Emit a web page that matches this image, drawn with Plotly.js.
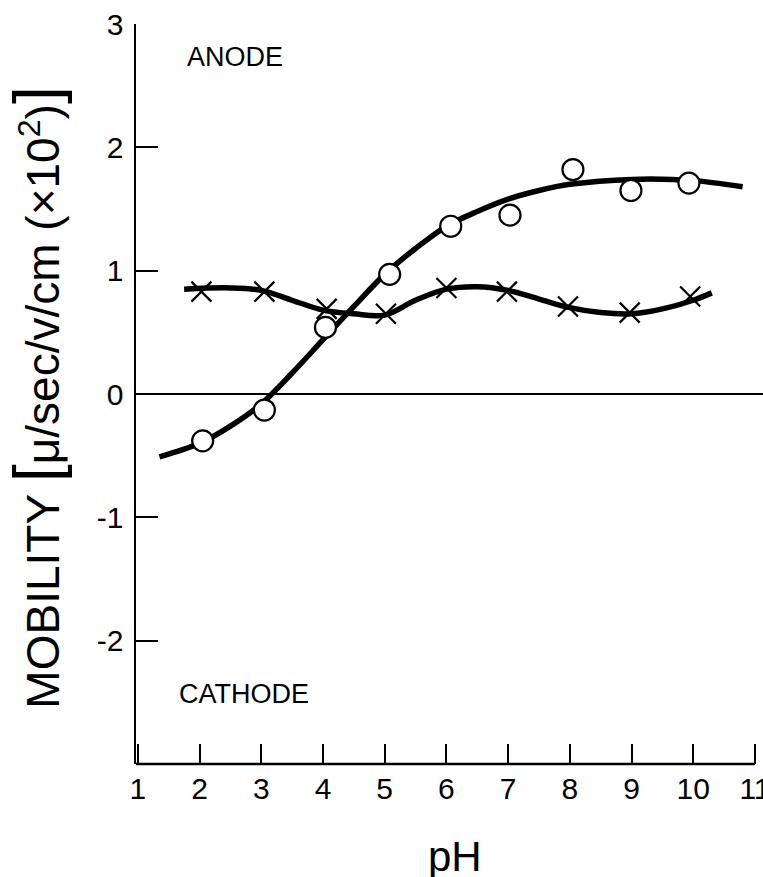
<!DOCTYPE html>
<html>
<head>
<meta charset="utf-8">
<script src="https://cdn.plot.ly/plotly-3.0.1.min.js"></script>
<style>html,body{margin:0;padding:0;background:#fff;}#chart{width:763px;height:877px;}</style>
</head>
<body>
<div id="chart"></div>
<script>
// Open circles: measured points
const circleX = [2.05, 3.05, 4.04, 5.08, 6.07, 7.03, 8.05, 8.99, 9.93];
const circleY = [-0.38, -0.13, 0.54, 0.97, 1.36, 1.45, 1.82, 1.65, 1.71];
// Crosses: measured points
const crossX = [2.03, 3.05, 4.06, 5.02, 6.0, 6.98, 7.97, 8.97, 9.95];
const crossY = [0.83, 0.83, 0.69, 0.65, 0.86, 0.83, 0.71, 0.66, 0.79];
// Smooth curve drawn through circles
const circleCurveX = [1.35, 2.0, 2.5, 3.0, 3.5, 4.0, 4.5, 5.0, 5.5, 6.0, 6.5, 7.0, 7.5, 8.0, 9.0, 10.0, 10.8];
const circleCurveY = [-0.51, -0.40, -0.26, -0.08, 0.17, 0.44, 0.71, 0.97, 1.18, 1.36, 1.48, 1.58, 1.65, 1.70, 1.74, 1.73, 1.68];
// Smooth curve drawn through crosses
const crossCurveX = [1.75, 2.5, 3.0, 3.5, 4.0, 4.5, 5.0, 5.5, 6.0, 6.5, 7.0, 7.5, 8.0, 8.5, 9.0, 9.5, 10.0, 10.3];
const crossCurveY = [0.85, 0.86, 0.84, 0.76, 0.68, 0.65, 0.64, 0.76, 0.85, 0.87, 0.84, 0.77, 0.70, 0.66, 0.65, 0.69, 0.76, 0.82];
// Tick labels
const xTicks = [1, 2, 3, 4, 5, 6, 7, 8, 9, 10, 11];
const yTicks = [-2, -1, 0, 1, 2, 3];
const xMin = 0.97, xMax = 11.13;

const FONT = 'Liberation Sans, Arial, sans-serif';

const traces = [
  {x: circleCurveX, y: circleCurveY, mode: 'lines', line: {color: '#000', width: 5.5, shape: 'spline', smoothing: 1}, hoverinfo: 'skip'},
  {x: crossCurveX, y: crossCurveY, mode: 'lines', line: {color: '#000', width: 5.5, shape: 'spline', smoothing: 1}, hoverinfo: 'skip'},
  {x: crossX, y: crossY, mode: 'markers', marker: {symbol: 'x-thin-open', size: 20, color: '#000', line: {color: '#000', width: 2.2}}},
  {x: circleX, y: circleY, mode: 'markers', marker: {symbol: 'circle', size: 21, color: '#fff', line: {color: '#000', width: 2.2}}}
];

const layout = {
  width: 763, height: 877,
  margin: {l: 136, r: 0, t: 24, b: 113},
  paper_bgcolor: '#fff', plot_bgcolor: '#fff',
  showlegend: false,
  font: {family: FONT, color: '#000'},
  xaxis: {
    range: [xMin, xMax], tickvals: xTicks, ticktext: xTicks.map(String),
    ticks: 'inside', ticklen: 20, tickwidth: 2, tickcolor: '#000',
    showline: false,
    showgrid: false, zeroline: false,
    tickfont: {size: 30, family: FONT}, ticklabelstandoff: 4, ticklabeloverflow: 'allow'
  },
  yaxis: {
    range: [-3, 3], tickvals: yTicks, ticktext: yTicks.map(v => v < 0 ? '-' + Math.abs(v) : String(v)),
    ticks: 'inside', ticklen: 22, tickwidth: 2, tickcolor: '#000',
    showline: true, linewidth: 2.5, linecolor: '#000',
    showgrid: false, zeroline: false,
    tickfont: {size: 30, family: FONT}, ticklabelstandoff: 4
  },
  shapes: [
    // bottom axis line, ending at pH 11 as in the original
    {type: 'line', xref: 'x', yref: 'paper', x0: xMin, x1: xTicks[xTicks.length - 1], y0: 0, y1: 0, line: {color: '#000', width: 2.5}},
    // zero line running to the right edge
    {type: 'line', xref: 'paper', yref: 'y', x0: 0, x1: 1, y0: 0, y1: 0, line: {color: '#000', width: 2}, layer: 'below'}
  ],
  annotations: [
    {text: 'ANODE', xref: 'x', yref: 'y', x: 1.76, y: 2.73, xanchor: 'left', yanchor: 'middle', showarrow: false, font: {size: 27, family: FONT}},
    {text: 'CATHODE', xref: 'x', yref: 'y', x: 1.64, y: -2.43, xanchor: 'left', yanchor: 'middle', showarrow: false, font: {size: 27, family: FONT}},
    {text: 'pH', xref: 'paper', yref: 'paper', x: 0.508, y: -0.091, xanchor: 'center', yanchor: 'top', showarrow: false, font: {size: 42, family: FONT}},
    {text: "MOBILITY <span style='font-size:64px'>[</span>μ/sec/v/cm (×10<sup>2</sup>)<span style='font-size:64px'>]</span>",
     xref: 'paper', yref: 'paper', x: -0.158, y: 0.495, xanchor: 'center', yanchor: 'middle', textangle: -90, showarrow: false,
     font: {size: 46, family: FONT}}
  ]
};

Plotly.newPlot('chart', traces, layout, {displayModeBar: false, staticPlot: true});
</script>
</body>
</html>
